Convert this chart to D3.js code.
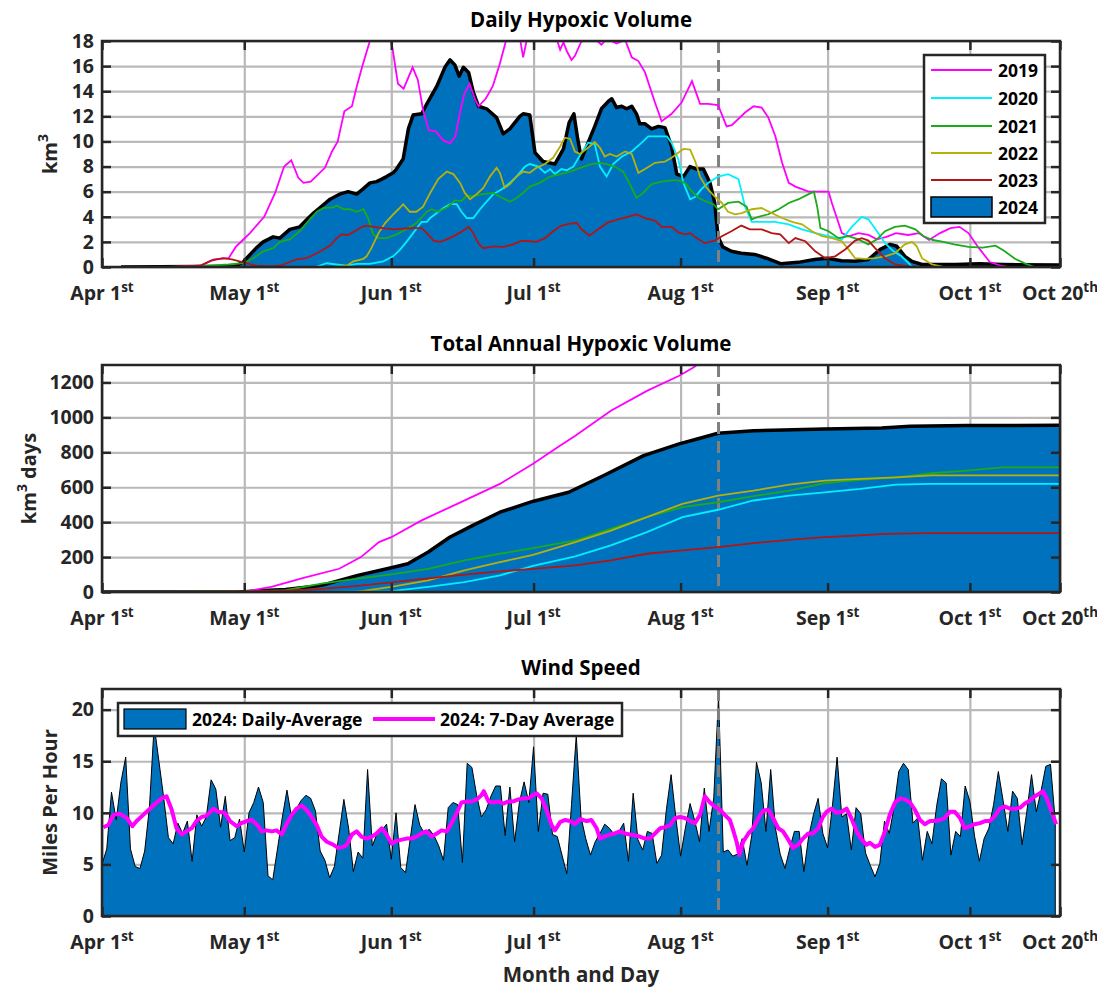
<!DOCTYPE html>
<html>
<head>
<meta charset="utf-8">
<script src="https://cdn.jsdelivr.net/npm/d3@7"></script>
<style>
  body { margin: 0; background: #fff; }
  svg { display: block; }
</style>
</head>
<body>
<svg id="chart" width="1097" height="988"></svg>
<script>
// Hypoxic volume / wind speed dashboard, three stacked panels sharing one day axis.
// Days are counted from Apr 1 (day 0) to Oct 20 (day 202).

const xTickDays = [0, 30, 61, 91, 122, 153, 183, 202];
const xTickText = ['Apr 1', 'May 1', 'Jun 1', 'Jul 1', 'Aug 1', 'Sep 1', 'Oct 1', 'Oct 20'];
const xTickSup = ['st', 'st', 'st', 'st', 'st', 'st', 'st', 'th'];
const markDay = 130; // dashed "today" line

const years = ['2019', '2020', '2021', '2022', '2023'];
const yearColors = ['#ff00ff', '#00f0ff', '#1aaa1a', '#b5b10c', '#b31414'];

// daily hypoxic volume, km^3, [day, value]
const hv2019 = [[15,0],[20.7,0.1],[23.6,0.6],[26.7,0.7],[28.2,1.6],[29.7,2.15],[31.2,2.7],[34.2,4.0],[36.5,5.9],[38.4,8.0],[39.9,8.5],[41.4,7.1],[42.5,6.7],[44,6.8],[47,7.9],[48.5,9.2],[49.7,10],[51.1,12.4],[52.7,12.8],[53.8,14.5],[54.9,16],[56.4,17.9],[57.5,19.5],[59,20],[60.3,19],[61.3,17.3],[62.4,14.6],[63.6,14.2],[65.5,15.9],[66.6,14.9],[67.7,12.5],[68.9,10.9],[70.4,10.8],[71.9,10.1],[73.4,9.85],[74.5,10.4],[75.6,12.5],[76.4,13.8],[77.5,14.6],[78.7,13.3],[79.4,12.8],[80.9,13.4],[82.4,14.4],[83.9,16.2],[85.1,17.9],[86.5,19.5],[88,18.5],[88.8,16.7],[89.8,18.5],[91,19.5],[93,20],[95.5,18.6],[96.6,17.3],[97.3,17.9],[98,17.2],[99,16.5],[99.7,16.8],[101,17.9],[103,18.5],[105.3,17.7],[106.5,18.2],[108.5,17.8],[110.3,18.1],[111.7,16.7],[113.1,16.4],[114.5,15.5],[116.6,13.1],[118,11.6],[120.1,12.2],[122.2,13.1],[124.4,14.8],[126.1,13.0],[127.8,13.0],[129.9,12.9],[131.7,11.2],[132.8,11.3],[135.6,12.3],[137.4,12.8],[139.1,12.7],[140.5,11.9],[142,10.4],[143.4,8.3],[144.8,6.7],[146.2,6.4],[149,6.0],[151.8,6.0],[153.2,6.0],[153.9,5.1],[155.3,3.5],[156,2.7],[157.4,2.45],[159.5,2.7],[161.6,2.55],[163.4,2.2],[165.4,2.4],[167.4,2.7],[170,2.55],[172.2,2.7],[174.4,2.15],[176.7,2.7],[178.9,3.1],[180.8,3.2],[182.7,2.7],[184.9,1.5],[187.2,0.4],[189.5,0.1],[191,0]];
const hv2020 = [[45,0],[47.4,0.3],[49.4,0.2],[51.6,0.1],[53.7,0.25],[56.5,0.25],[59.3,0.45],[61.4,0.85],[62.9,1.4],[64.2,2.0],[65.6,2.7],[67.4,3.6],[68.5,3.6],[69.2,3.9],[70.6,4.3],[72,4.7],[73.4,5.0],[74.8,5.0],[75.8,4.4],[76.9,3.9],[78.3,3.9],[79.7,4.6],[81.1,5.2],[82.5,5.8],[84.3,6.2],[86,6.7],[87.4,7.2],[89.2,8.0],[90.2,8.2],[92,8.0],[93.4,7.5],[94.5,7.8],[95.5,7.4],[96.9,7.8],[98,7.7],[99.4,8.0],[100.8,8.9],[102.5,9.9],[103.9,9.8],[105,8.0],[106.4,7.2],[107.8,8.2],[109.6,8.8],[111.7,9.2],[113.8,9.9],[115.2,10.4],[117.3,10.4],[119.1,10.4],[120.1,9.9],[121.5,8.6],[122.6,6.7],[124,5.4],[125.1,5.6],[126.4,6.2],[127.8,6.7],[129.9,7.2],[132,7.4],[134.2,7.0],[135.6,4.8],[137,3.6],[139.1,3.6],[141.9,3.6],[144.8,3.4],[147.6,3.0],[150.4,2.7],[153.2,2.45],[156,2.2],[158.1,3.2],[160.2,4.0],[161.6,3.8],[163.4,2.85],[165.1,1.9],[166.9,1.25],[168.6,0.85],[170.1,0.3],[170.8,0]];
const hv2021 = [[14,0],[20,0.05],[26.7,0.2],[29.8,0.3],[31.9,0.7],[34,1.25],[36.1,1.5],[37.5,2.0],[39.6,2.2],[41.7,2.85],[43.8,3.8],[45.3,4.4],[46.7,4.7],[48.8,4.75],[49.5,4.9],[50.9,4.6],[52.3,4.6],[53.7,4.4],[55.1,4.6],[56.1,3.9],[57.2,2.6],[58.3,2.3],[60,2.3],[62.1,2.6],[64.2,3.0],[66.3,3.5],[68.5,4.4],[69.5,4.6],[70.9,4.4],[73,4.8],[74.4,5.3],[75.8,5.25],[76.9,5.7],[78.3,5.65],[80.4,5.8],[82.5,5.9],[83.9,5.6],[86,5.2],[87.4,5.5],[88.8,5.9],[90.2,6.4],[92.3,6.7],[94.5,7.2],[96.6,7.4],[98.7,7.6],[100.8,7.9],[103.2,8.2],[105,8.3],[106.4,8.2],[108.1,8.0],[109.9,7.6],[111.3,6.6],[112.7,5.5],[113.8,5.8],[115.9,6.6],[118,6.8],[120.1,6.9],[121.5,6.9],[122.9,6.7],[124.4,6.0],[125.8,5.5],[127.5,5.2],[128.9,5.0],[129.9,4.6],[132,5.1],[134.2,5.2],[135.9,4.8],[137,3.8],[138.4,4.0],[140.5,4.2],[142.7,4.6],[144.8,5.1],[146.9,5.4],[149,5.8],[150.1,6.0],[150.8,4.8],[151.5,3.1],[153.2,2.85],[155.3,2.3],[157.4,2.45],[159.5,2.2],[161.6,1.8],[163.4,2.2],[165.1,2.85],[167.2,3.2],[169.3,3.3],[171.5,3.0],[173.2,2.45],[175.2,2.15],[177.4,2.0],[179.7,1.8],[182.7,1.6],[185.7,1.55],[188.4,1.7],[190.2,1.3],[192.5,0.65],[194.8,0.25],[196.6,0]];
const hv2022 = [[49,0],[51.6,0.1],[53,0.45],[55.1,0.65],[55.8,0.85],[56.8,1.5],[58.3,2.7],[59.7,3.5],[61.4,4.2],[62.5,4.6],[63.5,5.0],[64.9,4.4],[66.3,4.4],[67.7,4.8],[69.2,5.9],[70.9,7.0],[72.7,7.6],[74.1,7.4],[75.5,6.7],[76.5,5.9],[77.6,5.4],[79,5.8],[80.4,6.3],[81.8,7.2],[83.2,7.9],[83.9,7.5],[84.9,6.3],[86,6.6],[87.4,7.2],[88.8,7.6],[90.2,7.5],[91.6,7.9],[93.4,8.2],[95.1,8.7],[96.6,9.6],[97.6,10.3],[98.7,10.2],[99.7,9.2],[100.8,9.0],[102.8,9.6],[103.9,9.95],[105,9.5],[106,8.8],[107.1,9.0],[108.5,8.8],[110.3,9.2],[111.7,9.0],[113.1,7.5],[114.5,7.8],[116.6,8.3],[118.7,8.4],[120.1,8.7],[121.5,9.1],[122.6,9.4],[124,9.35],[125.1,8.4],[126.1,7.2],[127.5,6.3],[129.2,5.6],[130.7,5.1],[132,4.4],[133.5,4.2],[134.9,4.3],[137,4.6],[139.1,4.7],[141.2,4.3],[143.4,3.9],[145.5,3.6],[147.6,3.4],[149.7,2.85],[151.8,2.45],[153.9,2.3],[156,2.05],[157.4,1.4],[158.8,0.7],[160.9,0.65],[163,0.7],[165.1,0.85],[167.2,1.1],[169.3,1.8],[170.8,2.0],[171.8,1.65],[172.9,0.7],[175,0.2],[177.4,0]];
const hv2023 = [[14,0],[20.7,0.1],[23,0.5],[25.5,0.7],[27.4,0.6],[30,0.35],[32.6,0.1],[35.4,0.05],[37.5,0.1],[38.9,0.3],[41,0.6],[43.1,0.7],[45.3,1.1],[46.7,1.4],[48.1,1.7],[49.5,2.3],[50.5,2.6],[51.9,2.55],[53.3,2.85],[54.8,3.2],[55.8,3.3],[57.2,3.2],[59.3,3.1],[61.4,3.0],[63.5,3.05],[65.6,3.1],[67.4,3.1],[68.5,2.7],[69.9,2.1],[71.3,2.0],[72.7,2.2],[74.4,2.5],[76.2,2.9],[77.3,3.2],[78.3,2.7],[79.4,1.85],[80.4,1.5],[82.5,1.65],[84.6,1.6],[86.7,1.8],[88.5,2.1],[90.2,2.05],[91.6,2.0],[93.4,2.3],[95.1,2.85],[96.9,3.3],[98.7,3.45],[100.1,3.5],[101.1,3.0],[102.8,2.5],[104.6,3.0],[106.7,3.55],[108.8,3.8],[110.9,4.0],[112.7,4.2],[114.5,3.9],[116.6,3.7],[118,3.2],[120.1,3.2],[121.5,2.75],[122.9,2.6],[124,2.7],[125.4,2.3],[127.1,1.9],[129.2,2.1],[130.7,2.45],[132.7,2.85],[134.8,3.3],[136.6,3.0],[139.1,3.0],[141.2,2.7],[143,2.6],[144.8,1.9],[146.2,2.3],[148.3,2.05],[150.4,1.25],[152.5,0.7],[154.6,0.85],[156.7,1.4],[158.8,2.1],[160.2,2.3],[161.6,2.1],[163,1.5],[165.1,0.7],[167.2,0.2],[170.1,0.05],[172,0]];
const hv2024 = [[4,0],[28,0.05],[29.8,0.4],[31,0.9],[32.5,1.5],[34,2.0],[36.1,2.4],[37.5,2.3],[39.6,3.0],[41.7,3.2],[43,3.7],[44.6,4.3],[46.5,4.9],[48.1,5.4],[50.1,5.8],[51.9,6.0],[53.7,5.8],[55,6.2],[56.5,6.7],[57.9,6.8],[59,7.0],[60,7.2],[61.4,7.5],[62.1,7.8],[63.5,8.6],[64.6,11.0],[65.6,12.1],[67.4,12.2],[68.5,13.0],[70.6,14.4],[72.3,15.9],[73.4,16.5],[74.4,16.1],[75.3,15.2],[76.2,15.9],[77.3,15.5],[78.3,13.9],[79.4,12.8],[81.1,12.6],[83.2,11.9],[84.6,10.6],[86,11.0],[88.1,12.0],[88.8,12.2],[90.2,12.1],[91.3,9.1],[93,8.4],[95.5,8.2],[97.3,9.4],[98.5,11.5],[99.5,12.2],[100.3,10.2],[101.1,8.6],[102.5,9.9],[103.9,11.2],[105.3,12.6],[106.8,13.2],[107.5,13.4],[108.5,12.7],[109.6,12.8],[110.6,12.6],[111.7,12.8],[112.7,12.2],[113.4,11.4],[114.5,11.4],[115.9,11.0],[117.3,11.2],[118.7,11.1],[120.1,9.6],[121.2,7.4],[122.6,7.2],[124,8.0],[125.4,7.8],[126.8,7.8],[128.2,6.7],[129.2,5.1],[129.9,2.4],[130.9,1.6],[132.7,1.25],[134.8,1.1],[137.6,1.0],[140.1,0.7],[143.2,0.25],[146.8,0.37],[150.3,0.6],[152.8,0.7],[155.9,0.5],[158.8,0.45],[161.6,0.6],[164.1,1.4],[166.2,1.8],[167.6,1.65],[169.3,0.85],[170.8,0.45],[172.9,0.2],[180,0.2],[185,0.25],[190,0.2],[202,0.15]];

// total annual hypoxic volume, km^3 days, [day, value]
const tot2019 = [[25,0],[30,2],[35.7,29],[42.5,81],[50,133],[54.6,200],[58.4,286],[61,314],[67.4,410],[74.9,505],[83.9,619],[90.9,735],[96.4,835],[99.8,895],[107.3,1038],[114.9,1152],[121.7,1238],[124.7,1286],[127,1330]];
const tot2020 = [[45,0],[61,5],[68.8,29],[76.4,57],[83.9,95],[90.9,150],[99.8,204],[107.3,267],[114.9,343],[122.4,429],[129.9,471],[137.4,524],[144.9,552],[152.4,571],[159.9,590],[167.4,615],[174.9,619],[202,619]];
const tot2021 = [[14,0],[30,3],[38.7,10],[46.3,48],[53.9,76],[61,101],[68.8,133],[76.4,181],[83.9,219],[90.9,251],[99.8,295],[107.3,362],[114.9,429],[122.4,486],[129.9,514],[137.4,549],[144.9,581],[152.4,623],[159.9,642],[167.4,657],[174.9,680],[182.4,695],[189.9,714],[202,714]];
const tot2022 = [[49,0],[54,2],[61,29],[68.8,67],[76.4,124],[83.9,171],[90.9,212],[99.8,286],[107.3,352],[114.9,429],[122.4,505],[129.9,552],[137.4,581],[144.9,615],[152.4,638],[159.9,648],[167.4,657],[174.9,668],[202,668]];
const tot2023 = [[20,0],[30,3],[38.7,8],[46.3,18],[53.9,35],[61,55],[68.8,78],[76.4,100],[83.9,118],[90.9,133],[99.8,152],[107.3,181],[114.9,219],[122.4,238],[129.9,257],[137.4,280],[144.9,299],[152.4,314],[159.9,324],[165.1,333],[174.9,337],[202,337]];
const tot2024 = [[0,0],[28,0],[30,2],[34,8],[38.7,14],[46.3,38],[53.9,95],[61,139],[64.5,162],[68.8,229],[73.4,315],[77.9,377],[83.9,457],[91,520],[98.4,571],[105.8,667],[114.2,781],[121.7,848],[125.5,876],[129.9,909],[137.4,924],[152.4,933],[164.4,939],[170.4,949],[182.4,953],[202,955]];

// 2024 wind speed, mph: one value per day from Apr 1
const windDaily = [5.0,6.5,12.0,9.3,13.0,15.4,6.5,4.8,4.6,6.3,10.5,18.5,15.0,11.5,7.6,7.0,9.0,8.0,9.2,5.3,
  9.8,8.7,9.6,13.2,12.3,8.6,11.6,7.3,7.6,9.4,6.2,10.0,11.0,12.5,11.0,3.9,3.5,6.5,9.5,12.2,
  9.5,10.4,11.2,11.7,11.4,10.2,6.3,5.4,3.7,4.8,8.0,11.3,8.5,4.3,6.2,5.6,14.2,6.8,8.0,8.3,
  8.9,5.5,10.0,4.7,4.2,7.5,10.8,8.8,8.0,8.4,7.8,6.8,5.4,10.5,11.0,10.8,5.2,14.8,14.4,11.7,
  9.6,10.3,11.6,12.6,12.6,7.8,12.5,7.2,11.0,13.0,11.0,16.4,8.2,11.9,11.8,7.9,7.7,5.9,4.1,10.8,
  17.5,9.6,7.5,5.9,7.2,8.0,8.9,8.5,7.9,8.2,9.0,5.3,11.9,7.4,6.4,8.2,8.0,5.1,5.9,10.3,
  13.7,9.5,5.8,8.5,10.9,9.2,7.2,12.4,8.2,11.5,21.3,6.2,6.4,5.8,6.0,7.5,4.9,7.8,14.9,12.9,
  8.2,14.2,8.5,6.0,4.6,6.5,8.2,8.2,4.3,7.7,9.8,11.4,8.0,6.6,10.6,15.4,9.6,9.9,6.4,10.5,
  9.9,6.1,4.9,3.8,5.1,9.2,8.0,10.5,14.0,14.8,14.2,9.0,9.5,5.4,8.2,7.0,10.7,13.3,12.9,5.9,
  8.2,7.7,12.6,11.1,7.7,5.3,7.5,8.5,10.8,14.0,11.2,8.2,12.1,11.4,6.9,10.1,13.7,10.1,12.1,14.5,
  14.7,9.2];
// 2024 7-day average wind, mph, [day, value]
const wind7Day = [[0.3,8.6],[1.3,8.8],[2.4,9.8],[3.8,9.9],[5.2,9.5],[6.4,8.7],[7.3,9.2],[8.7,9.8],[10.1,10.4],[11.5,11.0],[12.9,11.5],[13.6,11.6],[14.7,10.3],[15.7,8.5],[16.8,7.9],[17.8,8.2],[18.9,8.5],[19.9,9.2],[21,9.6],[22,9.7],[23.5,10.4],[24.5,10.1],[25.9,10.0],[27,9.2],[28.4,8.7],[29.4,9.0],[30.5,9.2],[31.6,9.3],[32.6,8.9],[33.7,8.2],[34.7,8.3],[35.8,8.2],[36.8,8.3],[37.9,7.9],[38.9,8.9],[40,9.8],[41,10.4],[42.1,10.7],[43.1,10.3],[44.2,9.6],[45.3,8.8],[46.3,7.7],[47.4,7.2],[48.8,6.9],[49.8,6.6],[50.9,6.7],[51.6,6.9],[52.7,7.9],[53.7,8.2],[54.7,7.7],[55.8,7.5],[56.9,7.7],[57.9,8.0],[59,8.5],[60,7.9],[61.1,7.0],[62.1,7.3],[63.2,7.4],[64.2,7.5],[65.3,7.5],[66.3,7.7],[67.4,8.0],[68.4,8.2],[69.5,7.7],[70.6,8.0],[71.6,8.3],[72.7,8.2],[73.7,9.0],[74.8,10.0],[75.8,11.0],[76.9,11.1],[78,11.1],[79,11.3],[80,11.7],[80.5,12.1],[81.5,11.1],[82.5,11.0],[83.6,11.1],[84.6,10.9],[85.7,11.1],[86.7,11.1],[87.8,11.3],[88.8,11.4],[89.9,11.4],[90.9,11.7],[91.6,11.9],[92.7,11.4],[93.7,10.3],[94.8,8.8],[95.5,8.3],[96.6,9.1],[97.6,9.3],[98.7,9.2],[99.7,8.9],[100.8,9.4],[102.2,9.2],[103.2,9.3],[104.3,8.5],[105,7.5],[106,7.7],[107.1,7.9],[108.1,8.0],[109.2,8.2],[110.3,8.0],[111.3,7.9],[112.4,7.8],[113.4,7.7],[114.5,7.5],[115.5,7.5],[116.6,8.0],[117.7,8.5],[118.7,8.6],[119.8,8.8],[120.8,9.5],[121.9,9.6],[122.9,9.5],[124,9.2],[125,9.0],[126.1,9.8],[127.1,11.6],[128.2,11.0],[129.2,10.6],[130.3,10.3],[131.3,9.8],[132.4,9.3],[133.1,8.3],[133.8,7.2],[134.4,5.9],[135.2,7.2],[136.3,8.0],[137.3,8.5],[138.4,9.5],[139.4,10.2],[140.5,10.3],[141.5,9.5],[142.6,8.5],[143.6,8.2],[144.7,7.4],[145.7,6.6],[146.8,6.9],[147.8,7.5],[148.9,8.0],[149.9,8.0],[151,8.5],[152,9.6],[152.8,10.1],[153.8,10.4],[154.9,10.0],[155.9,10.1],[157,10.4],[158,9.5],[159.1,8.2],[160.2,7.4],[161.2,6.9],[161.9,7.1],[163,6.7],[164,6.9],[165.1,8.2],[166.1,9.8],[167.2,11.0],[168.3,11.4],[169.3,11.3],[170.4,11.0],[171.4,10.3],[172.5,9.3],[173.5,8.9],[174.6,9.2],[175.6,9.2],[176.7,9.3],[177.7,9.5],[178.8,10.1],[179.8,10.1],[180.9,9.5],[181.9,8.5],[183,8.7],[184,8.9],[185.1,9.0],[186.2,9.2],[187.2,9.2],[188.3,9.7],[189.3,10.4],[190.4,10.6],[191.5,10.4],[192.5,10.4],[193.6,10.5],[194.6,10.9],[195.7,11.2],[196.7,11.6],[197.8,11.9],[198.4,12.1],[199.2,11.4],[200.3,10.0],[201.2,8.9]];

const FONT = "'Open Sans', Lato, sans-serif";
const INK = '#262626';
const BLUE = '#0072bd';
const GRID = '#b9b9b9';

const svg = d3.select('#chart');
const x = d3.scaleLinear().domain([0, 202]).range([102, 1060]);
const [X0, X1] = x.range();

function makePanel(cfg) {
  const y = d3.scaleLinear().domain([0, cfg.max]).range([cfg.bottom, cfg.top]);
  const h = cfg.bottom - cfg.top;
  const g = svg.append('g');

  svg.append('clipPath').attr('id', 'clip-' + cfg.key)
    .append('rect').attr('x', X0).attr('y', cfg.top).attr('width', X1 - X0).attr('height', h);

  // grid behind everything
  g.append('g').attr('transform', `translate(0,${cfg.bottom})`)
    .call(d3.axisBottom(x).tickValues(xTickDays).tickSize(-h).tickFormat(''))
    .call(a => { a.select('.domain').remove(); a.selectAll('line').attr('stroke', GRID).attr('stroke-width', 2.2); });
  g.append('g').attr('transform', `translate(${X0},0)`)
    .call(d3.axisLeft(y).tickValues(cfg.yTicks).tickSize(-(X1 - X0)).tickFormat(''))
    .call(a => { a.select('.domain').remove(); a.selectAll('line').attr('stroke', GRID).attr('stroke-width', 2.2); });

  const plot = g.append('g').attr('clip-path', `url(#clip-${cfg.key})`);

  // title
  svg.append('text').attr('x', (X0 + X1) / 2).attr('y', cfg.top - 14)
    .attr('text-anchor', 'middle').attr('font-family', FONT).attr('font-weight', 700)
    .attr('font-size', 20.5).attr('fill', '#000').text(cfg.title);

  return { y, g, plot, cfg };
}

function markLine(p) {
  p.plot.append('line')
    .attr('x1', x(markDay)).attr('x2', x(markDay))
    .attr('y1', p.cfg.top).attr('y2', p.cfg.bottom)
    .attr('stroke', '#808080').attr('stroke-width', 3).attr('stroke-dasharray', '12 7');
}

function finishPanel(p) {
  const { y, g, cfg } = p;
  const tick = 9;
  const style = a => {
    a.select('.domain').remove();
    a.selectAll('line').attr('stroke', INK).attr('stroke-width', 2.5);
    a.attr('font-family', FONT).attr('font-size', 19.5).attr('font-weight', 700).attr('color', INK);
  };
  g.append('g').attr('transform', `translate(0,${cfg.bottom})`)
    .call(d3.axisBottom(x).tickValues(xTickDays).tickSizeInner(-tick).tickSizeOuter(0).tickFormat('')).call(style);
  g.append('g').attr('transform', `translate(0,${cfg.top})`)
    .call(d3.axisTop(x).tickValues(xTickDays).tickSizeInner(-tick).tickSizeOuter(0).tickFormat('')).call(style);
  g.append('g').attr('transform', `translate(${X0},0)`)
    .call(d3.axisLeft(y).tickValues(cfg.yTicks).tickSizeInner(-tick).tickSizeOuter(0).tickPadding(8)
      .tickFormat(d3.format('d'))).call(style)
    .call(a => a.selectAll('text').attr('fill', INK));
  g.append('g').attr('transform', `translate(${X1},0)`)
    .call(d3.axisRight(y).tickValues(cfg.yTicks).tickSizeInner(-tick).tickSizeOuter(0).tickFormat('')).call(style);

  g.append('rect').attr('x', X0).attr('y', cfg.top).attr('width', X1 - X0).attr('height', cfg.bottom - cfg.top)
    .attr('fill', 'none').attr('stroke', INK).attr('stroke-width', 2.5);

  // x tick labels with ordinal superscripts
  const lbl = g.append('g').attr('font-family', FONT).attr('font-weight', 700).attr('fill', INK);
  xTickDays.forEach((d, i) => {
    const t = lbl.append('text').attr('x', x(d)).attr('y', cfg.bottom + 33)
      .attr('text-anchor', 'middle').attr('font-size', 19.5);
    t.append('tspan').text(xTickText[i]);
    t.append('tspan').attr('dy', -8).attr('font-size', 13.5).text(xTickSup[i]);
  });

  // y label (rotated)
  const yl = g.append('text')
    .attr('transform', `translate(${cfg.yLabelX},${(cfg.top + cfg.bottom) / 2}) rotate(-90)`)
    .attr('text-anchor', 'middle').attr('font-family', FONT).attr('font-weight', 700)
    .attr('font-size', 20).attr('fill', INK);
  cfg.yLabel.forEach(part => {
    const s = yl.append('tspan').text(part.text);
    if (part.sup) s.attr('dy', -9).attr('font-size', 14);
    if (part.down) s.attr('dy', 9);
  });
}

const line = d3.line().x(d => x(d[0]));

// ---------- Panel 1: daily hypoxic volume ----------
const p1 = makePanel({ key: 'p1', top: 41, bottom: 267, max: 18, yTicks: d3.range(0, 19, 2),
  title: 'Daily Hypoxic Volume', yLabelX: 57,
  yLabel: [{ text: 'km' }, { text: '3', sup: true }] });
const y1 = p1.y;
p1.plot.append('path').datum(hv2024)
  .attr('d', d3.area().x(d => x(d[0])).y0(y1(0)).y1(d => y1(d[1])))
  .attr('fill', BLUE);
p1.plot.append('path').datum(hv2024).attr('d', line.y(d => y1(d[1])))
  .attr('fill', 'none').attr('stroke', '#000').attr('stroke-width', 3.5).attr('stroke-linejoin', 'round');
markLine(p1);
[hv2019, hv2020, hv2021, hv2022, hv2023].forEach((s, i) => {
  p1.plot.append('path').datum(s).attr('d', line.y(d => y1(d[1])))
    .attr('fill', 'none').attr('stroke', yearColors[i]).attr('stroke-width', 1.8);
});
finishPanel(p1);

// legend panel 1
{
  const lg = svg.append('g');
  lg.append('rect').attr('x', 924).attr('y', 55).attr('width', 121).attr('height', 168)
    .attr('fill', '#fff').attr('stroke', INK).attr('stroke-width', 2.5);
  const rows = [70, 98, 126, 153, 180, 207];
  years.forEach((yr, i) => {
    lg.append('line').attr('x1', 931).attr('x2', 992).attr('y1', rows[i]).attr('y2', rows[i])
      .attr('stroke', yearColors[i]).attr('stroke-width', 1.8);
  });
  lg.append('rect').attr('x', 931).attr('y', 197).attr('width', 61).attr('height', 20)
    .attr('fill', BLUE).attr('stroke', '#000').attr('stroke-width', 1.5);
  years.concat(['2024']).forEach((yr, i) => {
    lg.append('text').attr('x', 998).attr('y', rows[i] + 6.5)
      .attr('font-family', FONT).attr('font-weight', 700).attr('font-size', 17.5).attr('fill', '#000').text(yr);
  });
}

// ---------- Panel 2: total annual hypoxic volume ----------
const p2 = makePanel({ key: 'p2', top: 365, bottom: 592, max: 1300, yTicks: d3.range(0, 1201, 200),
  title: 'Total Annual Hypoxic Volume', yLabelX: 36,
  yLabel: [{ text: 'km' }, { text: '3', sup: true }, { text: ' days', down: true }] });
const y2 = p2.y;
p2.plot.append('path').datum(tot2024)
  .attr('d', d3.area().x(d => x(d[0])).y0(y2(0)).y1(d => y2(d[1])))
  .attr('fill', BLUE);
p2.plot.append('path').datum(tot2024).attr('d', line.y(d => y2(d[1])))
  .attr('fill', 'none').attr('stroke', '#000').attr('stroke-width', 3.5).attr('stroke-linejoin', 'round');
markLine(p2);
[tot2019, tot2020, tot2021, tot2022, tot2023].forEach((s, i) => {
  p2.plot.append('path').datum(s).attr('d', line.y(d => y2(d[1])))
    .attr('fill', 'none').attr('stroke', yearColors[i]).attr('stroke-width', 1.8);
});
finishPanel(p2);

// ---------- Panel 3: wind speed ----------
const p3 = makePanel({ key: 'p3', top: 689, bottom: 916, max: 22, yTicks: d3.range(0, 21, 5),
  title: 'Wind Speed', yLabelX: 57,
  yLabel: [{ text: 'Miles Per Hour' }] });
const y3 = p3.y;
p3.plot.append('path').datum(windDaily)
  .attr('d', d3.area().x((d, i) => x(i)).y0(y3(0)).y1(d => y3(d)))
  .attr('fill', BLUE).attr('stroke', '#000').attr('stroke-width', 1);
markLine(p3);
p3.plot.append('path').datum(wind7Day).attr('d', line.y(d => y3(d[1])))
  .attr('fill', 'none').attr('stroke', '#ff00ff').attr('stroke-width', 4).attr('stroke-linejoin', 'round');
finishPanel(p3);

// legend panel 3
{
  const lg = svg.append('g').attr('font-family', FONT).attr('font-weight', 700).attr('font-size', 17.5);
  lg.append('rect').attr('x', 118).attr('y', 703).attr('width', 504).attr('height', 33)
    .attr('fill', '#fff').attr('stroke', INK).attr('stroke-width', 2.5);
  lg.append('rect').attr('x', 124).attr('y', 709).attr('width', 62).attr('height', 20)
    .attr('fill', BLUE).attr('stroke', '#000').attr('stroke-width', 1.2);
  lg.append('text').attr('x', 192).attr('y', 725.5).attr('fill', '#000').text('2024: Daily-Average');
  lg.append('line').attr('x1', 373).attr('x2', 435).attr('y1', 719).attr('y2', 719)
    .attr('stroke', '#ff00ff').attr('stroke-width', 4);
  lg.append('text').attr('x', 440).attr('y', 725.5).attr('fill', '#000').text('2024: 7-Day Average');
}

// shared x label
svg.append('text').attr('x', (X0 + X1) / 2).attr('y', 982)
  .attr('text-anchor', 'middle').attr('font-family', FONT).attr('font-weight', 700)
  .attr('font-size', 20.5).attr('fill', INK).text('Month and Day');
</script>
</body>
</html>
